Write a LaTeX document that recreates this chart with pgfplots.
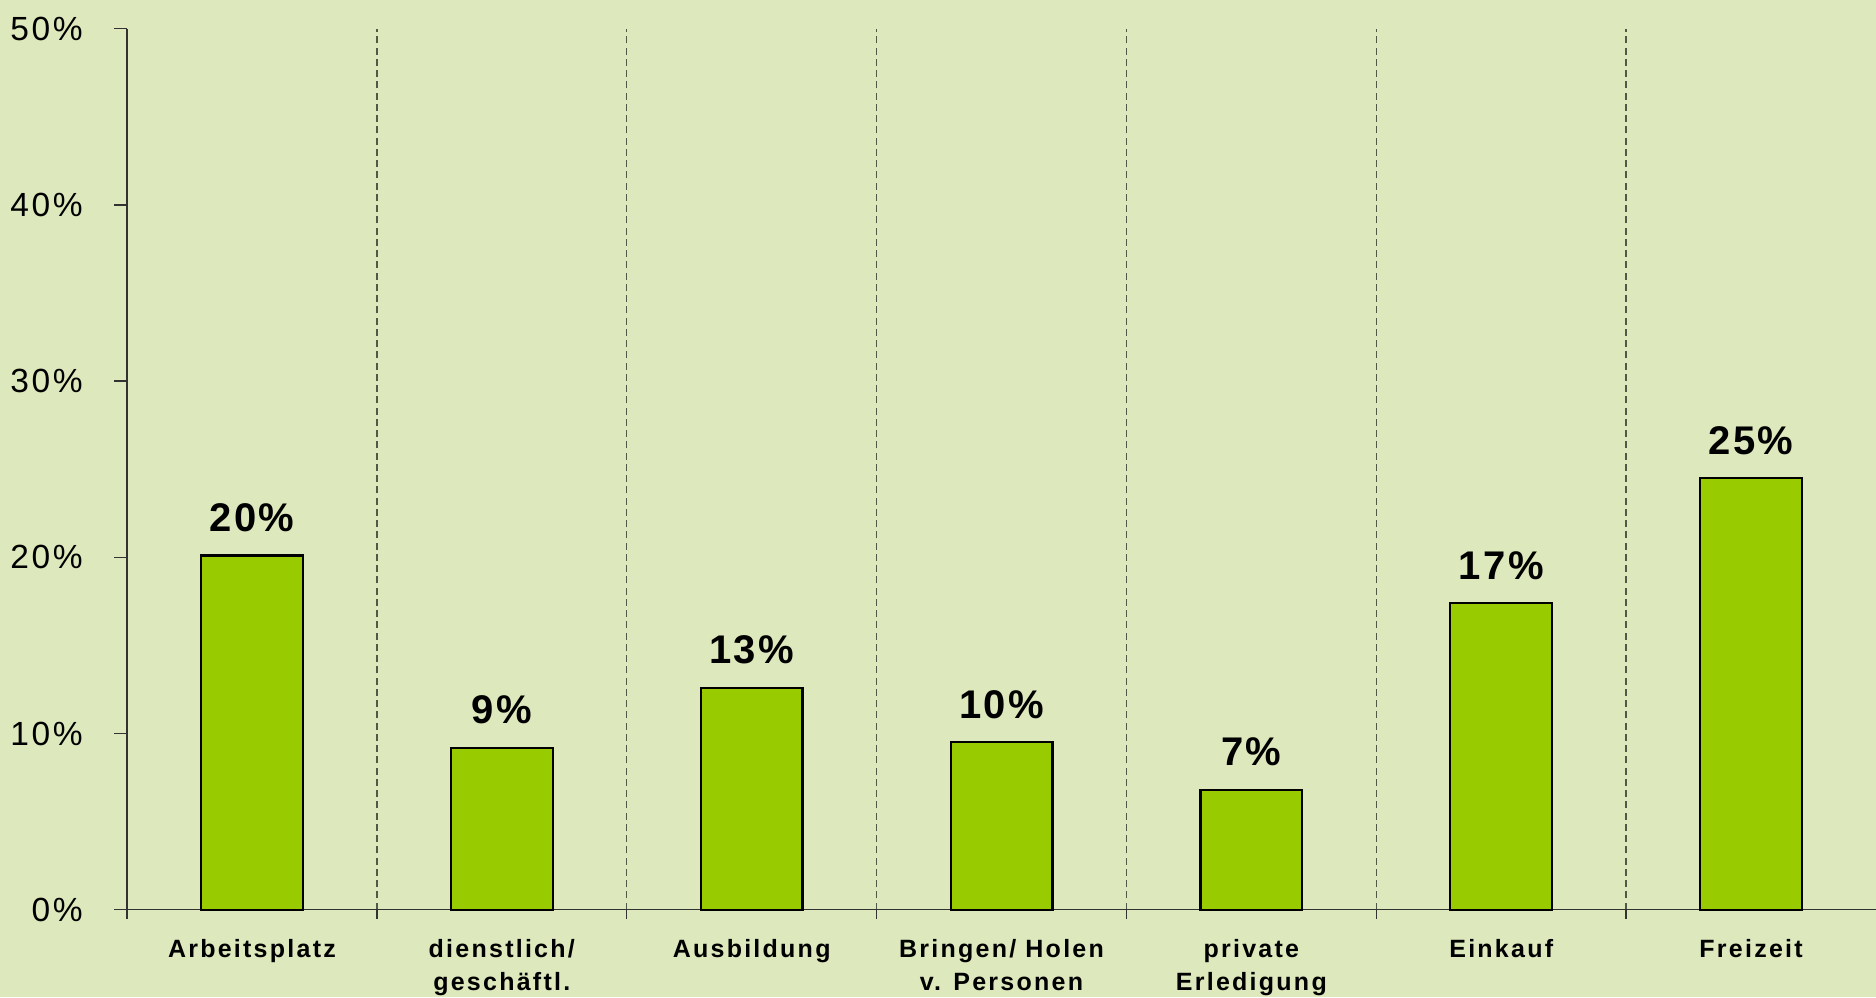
\documentclass[border=0pt]{standalone}
\usepackage{pgfplots}
\pgfplotsset{compat=1.18}
\usepackage{pgfplotstable}
\usepackage{fontspec}
\setmainfont{Liberation Sans}
\newfontfamily\catfont[LetterSpace=9]{Liberation Sans}
\newfontfamily\valfont[LetterSpace=6]{Liberation Sans}
\newfontfamily\tickfont[LetterSpace=8]{Liberation Sans}
\definecolor{bgc}{RGB}{221,232,188}
\definecolor{barc}{RGB}{153,204,0}
\definecolor{axc}{RGB}{50,50,50}
\definecolor{gridc}{RGB}{80,88,70}

\pgfplotstableread{
x y lbl
0 20.1 20
1 9.2 9
2 12.6 13
3 9.5 10
4 6.8 7
5 17.4 17
6 24.5 25
}\data

\begin{document}
\begin{tikzpicture}
\begin{axis}[
  set layers,
  scale only axis,
  width=699.6pt, height=352.4pt,
  xmin=-0.5, xmax=6.5, ymin=0, ymax=50,
  axis x line=bottom, axis y line=left,
  axis line style={-, color=axc, line width=0.6pt},
  tick align=outside,
  major tick length=5.2pt,
  minor tick length=3.6pt,
  tick style={color=axc, line width=0.6pt},
  xtick={0,...,6},
  xticklabels={Arbeitsplatz, {dienstlich/\\geschäftl.}, Ausbildung, {Bringen/ Holen\\v. Personen}, {private\\Erledigung}, Einkauf, Freizeit},
  xticklabel style={align=center, anchor=north, font=\catfont\bfseries\fontsize{10}{13.4}\selectfont, yshift=-3pt},
  major x tick style={draw=none},
  minor xtick={-0.5,0.5,1.5,2.5,3.5,4.5,5.5},
  xminorgrids=true,
  minor x grid style={dash pattern=on 2.8pt off 1.7pt, color=gridc, line width=0.55pt},
  ytick={0,10,20,30,40,50},
  yticklabels={0\%,10\%,20\%,30\%,40\%,50\%},
  yticklabel style={font=\tickfont\fontsize{13.4}{16}\selectfont, anchor=east, xshift=-9pt},
  clip=false,
]
\begin{pgfonlayer}{axis background}
\fill[bgc] ([shift={(-50.8pt,-35.1pt)}]rel axis cs:0,0) rectangle ([shift={(0pt,11.5pt)}]rel axis cs:1,1);
\end{pgfonlayer}
\coordinate (bl) at ([shift={(-50.8pt,-35.1pt)}]rel axis cs:0,0);
\coordinate (tr) at ([shift={(0pt,11.5pt)}]rel axis cs:1,1);
\addplot[ybar, bar width=40.7pt, fill=barc, draw=black, line width=0.9pt,
  point meta=explicit symbolic,
  nodes near coords={\pgfplotspointmeta\%},
  every node near coord/.append style={font=\valfont\bfseries\fontsize{16}{19}\selectfont, inner sep=0pt, yshift=9pt, text=black}]
  table[x=x, y=y, meta=lbl]{\data};
\end{axis}
\pgfresetboundingbox
\useasboundingbox (bl) rectangle (tr);
\end{tikzpicture}
\end{document}
